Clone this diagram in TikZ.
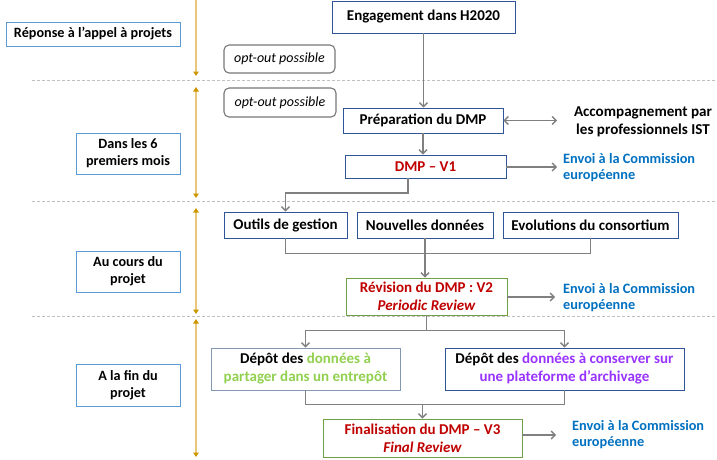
\documentclass[tikz,border=0pt]{standalone}
\usepackage{fontspec}
\setmainfont{Carlito}
\usetikzlibrary{arrows.meta,calc}
\definecolor{mainblue}{RGB}{47,85,151}
\definecolor{labblue}{RGB}{91,155,213}
\definecolor{boxgreen}{RGB}{112,160,70}
\definecolor{grayblue}{RGB}{132,151,176}
\definecolor{txtred}{RGB}{192,0,0}
\definecolor{txtgreen}{RGB}{146,208,80}
\definecolor{txtpurple}{RGB}{153,51,255}
\definecolor{txtblue}{RGB}{0,112,192}
\definecolor{arrgray}{RGB}{128,128,128}
\definecolor{optgray}{RGB}{118,118,118}
\definecolor{goldline}{RGB}{232,200,120}
\definecolor{goldtip}{RGB}{204,150,0}
\definecolor{dashgray}{RGB}{191,191,191}
\tikzset{
  gtip/.tip={Triangle[length=4.5pt,width=5.5pt,color=goldtip]},
  gbarb/.tip={Straight Barb[length=4pt,width=8pt]},
  mainbox/.style={draw=mainblue, line width=0.9pt, fill=white, inner sep=0pt, align=center,
    font=\fontsize{15}{18}\selectfont\bfseries},
  labbox/.style={draw=labblue, line width=0.9pt, fill=white, inner sep=0pt, align=center,
    minimum width=104pt, minimum height=41pt, font=\fontsize{14.2}{17}\selectfont\bfseries},
  greenbox/.style={mainbox, draw=boxgreen, text=txtred},
  optbox/.style={draw=optgray, line width=1.1pt, rounded corners=5pt, inner sep=0pt,
    font=\fontsize{14}{17}\selectfont\itshape},
  envoi/.style={anchor=west, align=left, text=txtblue, inner sep=0pt,
    font=\fontsize{14.3}{16}\selectfont\bfseries},
  garr/.style={draw=arrgray, line width=1.4pt, -{gbarb}},
  gline/.style={draw=arrgray, line width=1.4pt},
  goldarr/.style={draw=goldline, line width=1.5pt},
  sep/.style={draw=dashgray, line width=0.8pt, dash pattern=on 3pt off 2pt},
}
\begin{document}
\begin{tikzpicture}[x=1pt,y=-1pt]
\useasboundingbox (0,0) rectangle (717,460);

% separators
\coordinate (s1a) at (32,80);  \coordinate (s1b) at (717,80);
\coordinate (s2a) at (32,201); \coordinate (s2b) at (717,201);
\coordinate (s3a) at (32,316); \coordinate (s3b) at (717,316);
\draw[sep] (s1a) -- (s1b);
\draw[sep] (s2a) -- (s2b);
\draw[sep] (s3a) -- (s3b);

% gold timeline
\coordinate (t0) at (196,0);   \coordinate (t1) at (196,76);
\coordinate (t2) at (196,87);  \coordinate (t3) at (196,198);
\coordinate (t4) at (196,208); \coordinate (t5) at (196,314);
\coordinate (t6) at (196,319); \coordinate (t7) at (196,457);
\draw[goldarr, -{gtip}] (t0) -- (t1);
\draw[goldarr, {gtip}-{gtip}] (t2) -- (t3);
\draw[goldarr, {gtip}-{gtip}] (t4) -- (t5);
\draw[goldarr, {gtip}-{gtip}] (t6) -- (t7);

% left labels
\node[labbox, minimum width=174pt, minimum height=24pt] (l1) at (93,34) {Réponse à l’appel à projets};
\node[labbox] (l2) at (128,153.5) {Dans les 6\\premiers mois};
\node[labbox] (l3) at (128,271.5) {Au cours du\\projet};
\node[labbox, minimum height=42pt] (l4) at (128,385) {A la fin du\\projet};

% opt-out
\node[optbox, minimum width=111pt, minimum height=28pt] (o1) at (279.5,59) {opt-out possible};
\node[optbox, minimum width=112pt, minimum height=29pt] (o2) at (280,102.5) {opt-out possible};

% main boxes
\node[mainbox, minimum width=183pt, minimum height=32pt] (eng) at (423.5,17) {Engagement dans H2020};
\node[mainbox, minimum width=160pt, minimum height=25pt] (prep) at (423,120.5) {Préparation du DMP};
\node[mainbox, minimum width=161pt, minimum height=23pt, text=txtred] (v1) at (425.5,166.5) {DMP – V1};
\node[mainbox, minimum width=123pt, minimum height=26pt] (outils) at (285.5,225) {Outils de gestion};
\node[mainbox, minimum width=136pt, minimum height=26pt] (nouv) at (425,225) {Nouvelles données};
\node[mainbox, minimum width=175pt, minimum height=26pt] (evol) at (590.5,225) {Evolutions du consortium};
\node[greenbox, minimum width=161pt, minimum height=37pt] (rev) at (426.5,296.5) {Révision du DMP : V2\\\itshape Periodic Review};
\node[mainbox, draw=grayblue, minimum width=189pt, minimum height=42pt] (dep1) at (305.5,369)
  {Dépôt des \textcolor{txtgreen}{données à}\\\textcolor{txtgreen}{partager dans un entrepôt}};
\node[mainbox, minimum width=239pt, minimum height=42pt] (dep2) at (564.5,369)
  {Dépôt des \textcolor{txtpurple}{données à conserver sur}\\\textcolor{txtpurple}{une plateforme d’archivage}};
\node[greenbox, minimum width=199pt, minimum height=38pt] (fin) at (422.5,438) {Finalisation du DMP – V3\\\itshape Final Review};

% side texts
\node[align=center, inner sep=0pt, font=\fontsize{15.1}{18}\selectfont\bfseries] (acc) at (643,122) {Accompagnement par\\les professionnels IST};
\node[envoi] (e1) at (563,168) {Envoi à la Commission\\européenne};
\node[envoi] (e2) at (563,298) {Envoi à la Commission\\européenne};
\node[envoi] (e3) at (572,435) {Envoi à la Commission\\européenne};

% connectors
\coordinate (accend) at (557,120.5);
\coordinate (e1end) at (557,167);
\coordinate (e2end) at (555,297);
\coordinate (e3end) at (556,435);
\draw[garr] (eng.south) -- (eng.south |- prep.north);
\draw[garr] (prep.south) -- (prep.south |- v1.north);
\draw[gline, {gbarb}-{gbarb}] (prep.east) -- (accend);
\draw[garr] (v1.east |- e1end) -- (e1end);
\coordinate (v1out) at (408,178);
\draw[garr] (v1out) -- (408,193) -| (outils.north);
\draw[gline] (outils.south) -- ++(0,15) -| (evol.south);
\draw[garr] (nouv.south) -- (nouv.south |- rev.north);
\draw[garr] (rev.east |- e2end) -- (e2end);
\draw[garr] (rev.south) -- ++(0,15) -| (dep1.north);
\draw[garr] (rev.south) -- ++(0,15) -| (dep2.north);
\draw[gline] (dep1.south) -- ++(0,14) -| (dep2.south);
\coordinate (finin) at ($(fin.north |- dep1.south)+(0,14)$);
\draw[garr] (finin) -- (fin.north);
\draw[garr] (fin.east |- e3end) -- (e3end);
\end{tikzpicture}
\end{document}
